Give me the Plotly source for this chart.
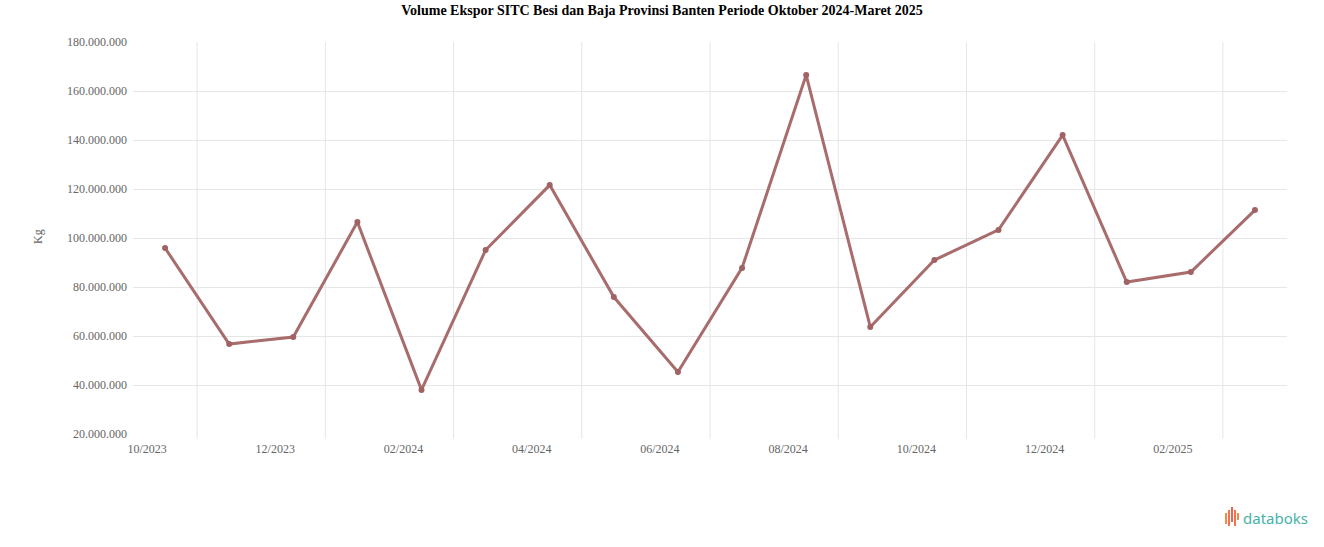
import plotly.graph_objects as go

months = ["10/2023", "11/2023", "12/2023", "01/2024", "02/2024", "03/2024",
          "04/2024", "05/2024", "06/2024", "07/2024", "08/2024", "09/2024",
          "10/2024", "11/2024", "12/2024", "01/2025", "02/2025", "03/2025"]
volume_kg = [95900000, 56700000, 59600000, 106500000, 38000000, 95100000,
             121600000, 75900000, 45300000, 87800000, 166500000, 63700000,
             91000000, 103300000, 142000000, 82000000, 86100000, 111400000]
x_ticks = months[::2]
y_ticks = [20000000, 40000000, 60000000, 80000000, 100000000,
           120000000, 140000000, 160000000, 180000000]
y_ticktext = [f"{v:,}".replace(",", ".") for v in y_ticks]

title = "Volume Ekspor SITC Besi dan Baja Provinsi Banten Periode Oktober 2024-Maret 2025"
y_title = "Kg"

W, H = 1324, 547
# plot area in page pixels: x 133..1287, y 42..434
L = 133
T = 42
R = W - 1287
B = H - 434
pw, ph = W - L - R, H - T - B

def px(x):
    return (x - L) / pw

def py(y):
    return (H - B - y) / ph

fig = go.Figure()
fig.add_trace(go.Scatter(
    x=months, y=volume_kg, mode="lines+markers",
    line=dict(color="rgb(168,108,108)", width=3),
    marker=dict(color="rgb(160,98,98)", size=6),
    hoverinfo="x+y",
))

shapes = []
for i in range(len(months) // 2):
    xv = 2 * i + 0.5
    shapes.append(dict(type="line", xref="x", yref="paper", x0=xv, x1=xv,
                       y0=-0.012, y1=1, line=dict(color="#e6e6e6", width=1),
                       layer="below"))

# databoks logo bars
bar_specs = [(1225, 513, 524, "#f58a4b"), (1228, 510, 526, "#f0744e"),
             (1231, 507, 522, "#ec6352"), (1234, 510, 526, "#f0744e"),
             (1237, 513, 520, "#f58a4b")]
for xb, y0b, y1b, col in bar_specs:
    shapes.append(dict(type="rect", xref="paper", yref="paper",
                       x0=px(xb), x1=px(xb + 2), y0=py(y1b), y1=py(y0b),
                       fillcolor=col, line=dict(width=0)))

annotations = [
    dict(text=y_title, xref="paper", yref="paper", x=px(38), y=py(237),
         xanchor="center", yanchor="middle",
         showarrow=False, textangle=-90,
         font=dict(family="Liberation Serif", size=12, color="#666666")),
    dict(text="databoks", xref="paper", yref="paper", x=px(1241), y=py(518),
         xanchor="left", yanchor="middle", showarrow=False,
         font=dict(family="Noto Sans", size=15, color="#45b3a8")),
]

fig.update_layout(
    width=W, height=H,
    margin=dict(l=L, r=R, t=T, b=B),
    paper_bgcolor="white", plot_bgcolor="white",
    showlegend=False,
    title=dict(text="<b>" + title + "</b>", x=0.5, xref="container",
               y=1 - 10 / H, yref="container", yanchor="middle",
               font=dict(family="Liberation Serif", size=14, color="#000000")),
    xaxis=dict(type="category", categoryorder="array", categoryarray=months,
               range=[-0.5, len(months) - 0.5],
               tickmode="array", tickvals=x_ticks, ticktext=x_ticks,
               showgrid=False, zeroline=False, showline=False, ticks="",
               ticklabelshift=-18, ticklabelstandoff=6,
               tickfont=dict(family="Liberation Serif", size=12, color="#666666")),
    yaxis=dict(range=[20000000, 180000000], tickmode="array",
               tickvals=y_ticks, ticktext=y_ticktext,
               showgrid=True, gridcolor="#e6e6e6", gridwidth=1,
               zeroline=False, showline=False, ticks="", ticklabelstandoff=5,
               tickfont=dict(family="Liberation Serif", size=12, color="#666666")),
    shapes=shapes,
    annotations=annotations,
)

fig.write_html("out.html", config={"displayModeBar": False},
               post_script="document.body.style.margin='0';document.body.style.padding='0';")
